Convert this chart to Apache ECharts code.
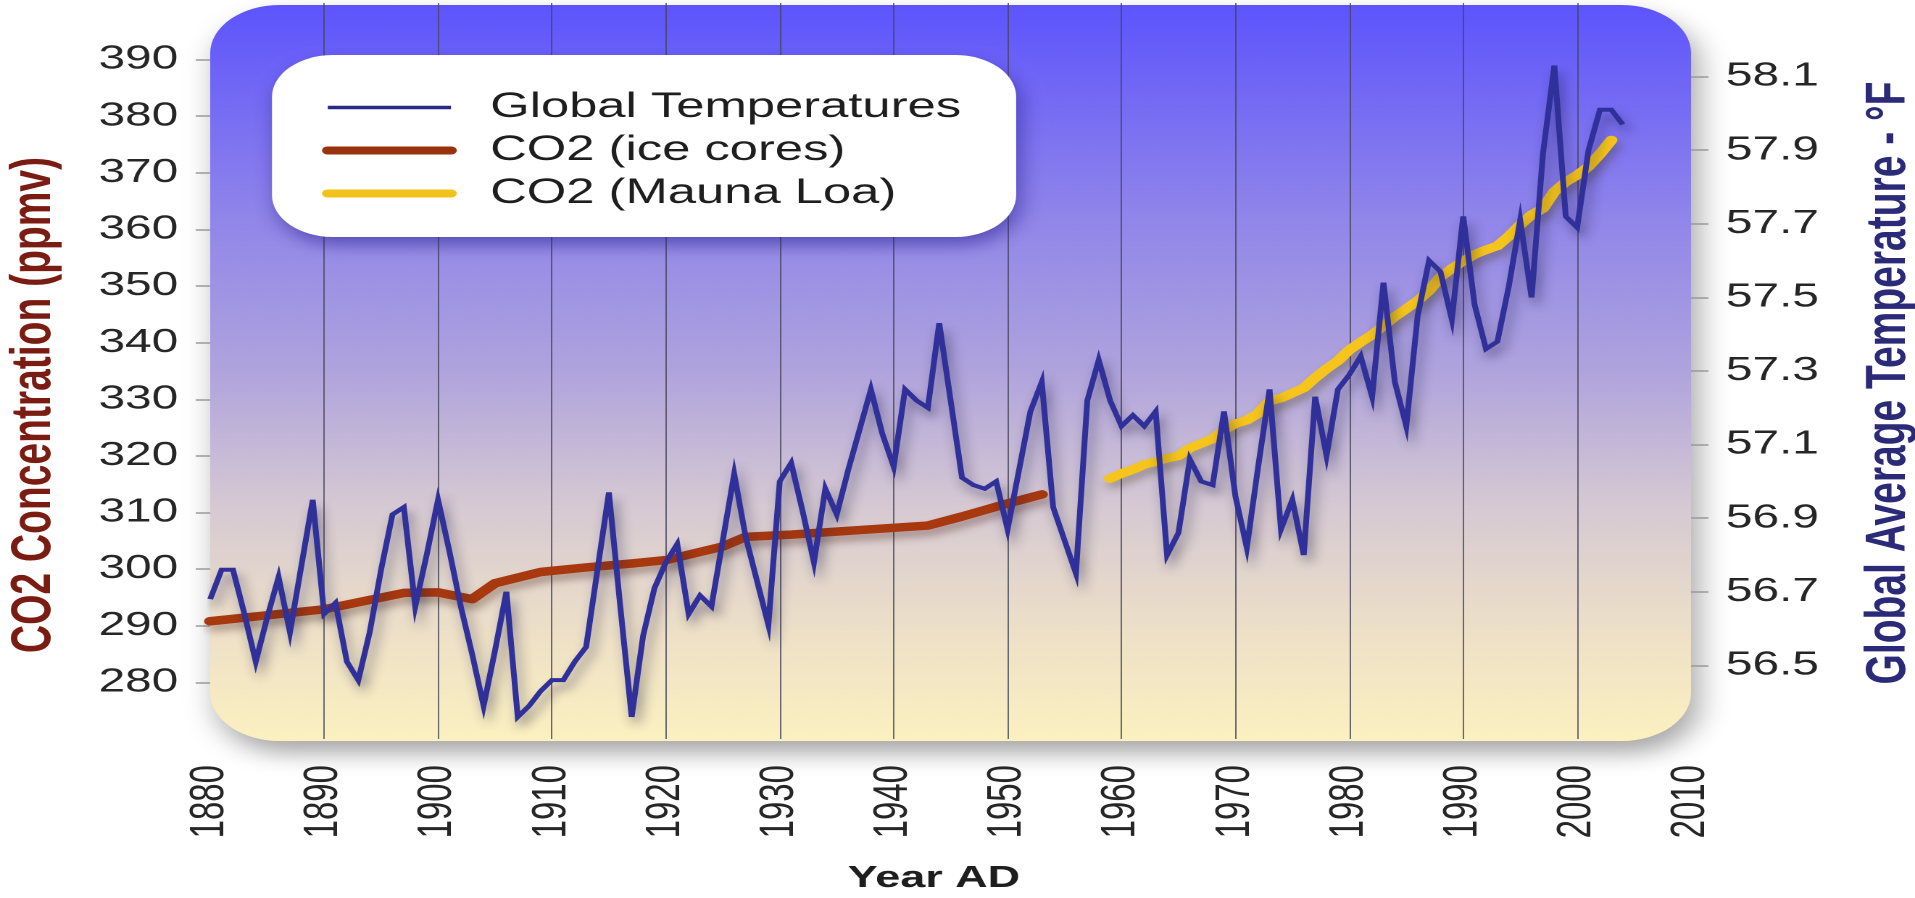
<!DOCTYPE html>
<html>
<head>
<meta charset="utf-8">
<script src="https://cdn.jsdelivr.net/npm/echarts@6/dist/echarts.min.js"></script>
<style>
  html, body { margin: 0; padding: 0; background: #ffffff; overflow: hidden; }
  #wrap { width: 1915px; height: 898px; overflow: hidden; }
  #chart { width: 1321px; height: 898px; transform-origin: 0 0; }
</style>
</head>
<body>
<div id="wrap"><div id="chart"></div></div>
<script>
// ---------------- data ----------------
const tempYears = [
  1880,1881,1882,1883,1884,1885,1886,1887,1888,1889,
  1890,1891,1892,1893,1894,1895,1896,1897,1898,1899,
  1900,1901,1902,1903,1904,1905,1906,1907,1908,1909,
  1910,1911,1912,1913,1914,1915,1916,1917,1918,1919,
  1920,1921,1922,1923,1924,1925,1926,1927,1928,1929,
  1930,1931,1932,1933,1934,1935,1936,1937,1938,1939,
  1940,1941,1942,1943,1944,1945,1946,1947,1948,1949,
  1950,1951,1952,1953,1954,1955,1956,1957,1958,1959,
  1960,1961,1962,1963,1964,1965,1966,1967,1968,1969,
  1970,1971,1972,1973,1974,1975,1976,1977,1978,1979,
  1980,1981,1982,1983,1984,1985,1986,1987,1988,1989,
  1990,1991,1992,1993,1994,1995,1996,1997,1998,1999,
  2000,2001,2002,2003,2004
];
const tempF = [
  56.68,56.76,56.76,56.64,56.51,56.63,56.74,56.59,56.77,56.95,
  56.64,56.67,56.51,56.46,56.59,56.76,56.91,56.93,56.66,56.80,
  56.95,56.81,56.66,56.53,56.39,56.54,56.70,56.36,56.39,56.43,
  56.46,56.46,56.51,56.55,56.76,56.97,56.66,56.36,56.58,56.71,
  56.78,56.83,56.64,56.69,56.66,56.84,57.02,56.85,56.73,56.61,
  57.00,57.05,56.92,56.78,56.98,56.91,57.03,57.14,57.25,57.13,
  57.04,57.25,57.22,57.20,57.43,57.22,57.01,56.99,56.98,57.00,
  56.87,57.03,57.19,57.27,56.93,56.84,56.75,57.22,57.33,57.22,
  57.15,57.18,57.15,57.19,56.80,56.86,57.06,57.00,56.99,57.19,
  56.96,56.82,57.04,57.25,56.87,56.95,56.80,57.23,57.07,57.25,
  57.29,57.34,57.23,57.54,57.27,57.15,57.45,57.60,57.57,57.44,
  57.72,57.48,57.36,57.38,57.53,57.71,57.50,57.89,58.13,57.72,
  57.69,57.90,58.01,58.01,57.97
];
const iceYears = [1880,1890,1897,1900,1903,1905,1909,1913,1917,1920,1925,1927,1931,1940,1943,1946,1950,1953];
const iceCO2   = [290.8,292.9,295.8,295.9,294.7,297.5,299.5,300.3,301.0,301.6,304.0,305.7,306.1,307.3,307.7,309.3,311.6,313.2];
const maunaYears = [
  1959,1960,1961,1962,1963,1964,1965,1966,1967,1968,1969,
  1970,1971,1972,1973,1974,1975,1976,1977,1978,1979,
  1980,1981,1982,1983,1984,1985,1986,1987,1988,1989,
  1990,1991,1992,1993,1994,1995,1996,1997,1998,1999,
  2000,2001,2002,2003
];
const maunaCO2 = [
  316.0,316.9,317.6,318.5,319.0,319.6,320.0,321.4,322.2,323.0,324.6,
  325.7,326.3,327.5,329.7,330.2,331.1,332.0,333.8,335.4,336.8,
  338.7,340.1,341.4,343.0,344.6,346.0,347.4,349.2,351.6,353.1,
  354.4,355.6,356.4,357.1,358.8,360.8,362.6,363.7,366.7,368.4,
  369.6,371.1,373.3,375.8
];
const co2Ticks  = [280,290,300,310,320,330,340,350,360,370,380,390];
const tempTicks = [56.5,56.7,56.9,57.1,57.3,57.5,57.7,57.9,58.1];
const seriesNames = ['Global Temperatures', 'CO2 (ice cores)', 'CO2 (Mauna Loa)'];

// ---------------- layout ----------------
const PRE_W = 1321;                 // drawing width before the horizontal stretch
const STRETCH = 1915 / PRE_W;       // the reference is horizontally stretched
const FONT = "'Liberation Sans', Arial, Helvetica, sans-serif";
const G = { left: 145, right: 154.5, top: 3, bottom: 159 };
const plotW = PRE_W - G.left - G.right;
const COL = { temp: '#30309a', ice: '#a8390f', mauna: '#f6c51c' };

const el = document.getElementById('chart');
el.style.transform = 'scaleX(' + STRETCH + ')';
const chart = echarts.init(el, null, { devicePixelRatio: 2 });

const pair = (xs, ys) => xs.map((x, i) => [x, ys[i]]);

const option = {
  animation: false,
  backgroundColor: '#ffffff',
  grid: { left: G.left, right: G.right, top: G.top, bottom: G.bottom,
          containLabel: false, outerBoundsMode: 'none' },
  graphic: [{
    type: 'rect', z: -5, silent: true,
    shape: { x: G.left, y: 5, width: plotW, height: 736, r: 48 },
    style: {
      fill: new echarts.graphic.LinearGradient(0, 0, 0, 1, [
        { offset: 0, color: '#5d54fd' },
        { offset: 0.28, color: '#8f84ea' },
        { offset: 0.5, color: '#b0a4dd' },
        { offset: 0.68, color: '#d6c9d3' },
        { offset: 0.85, color: '#ede0c8' },
        { offset: 1, color: '#fcf1c0' }
      ]),
      shadowBlur: 22, shadowOffsetX: 5, shadowOffsetY: 12, shadowColor: 'rgba(0,0,0,0.35)'
    }
  }],
  legend: {
    orient: 'vertical', left: 187.6, top: 55,
    padding: [31, 38, 22, 34.5],
    itemWidth: 85, itemHeight: 12, itemGap: 0,
    backgroundColor: '#ffffff', borderRadius: 42,
    shadowBlur: 16, shadowColor: 'rgba(40,30,140,0.55)', shadowOffsetX: 3, shadowOffsetY: 8,
    itemStyle: { opacity: 0 },
    textStyle: { fontSize: 35, color: '#1e1e1e', fontFamily: FONT, lineHeight: 43, padding: [0, 0, 0, 22] },
    data: [
      { name: seriesNames[0], lineStyle: { width: 3.5, color: '#2a2a85', shadowBlur: 0, shadowOffsetX: 0, shadowOffsetY: 0 } },
      { name: seriesNames[1], lineStyle: { width: 8, color: '#98310c', shadowBlur: 0, shadowOffsetX: 0, shadowOffsetY: 0 } },
      { name: seriesNames[2], lineStyle: { width: 8, color: '#f1c21a', shadowBlur: 0, shadowOffsetX: 0, shadowOffsetY: 0 } }
    ]
  },
  xAxis: {
    type: 'value', min: 1880, max: 2010, interval: 10,
    axisLine: { show: false }, axisTick: { show: false },
    axisLabel: { rotate: 90, fontSize: 33, color: '#262626', margin: 26, fontFamily: FONT,
                 formatter: v => String(v) },
    splitLine: { show: true, showMinLine: false, showMaxLine: false, lineStyle: { color: 'rgba(70,70,90,0.8)', width: 1 } },
    name: 'Year AD', nameLocation: 'middle', nameGap: 124,
    nameTextStyle: { fontSize: 31, fontWeight: 'bold', color: '#1e1e1e', fontFamily: FONT, padding: [0, 23, 0, 0] }
  },
  yAxis: [
    {
      type: 'value', position: 'left', min: 270, max: 400, interval: 10,
      axisLine: { show: false },
      axisTick: { show: true, length: 10, customValues: co2Ticks, lineStyle: { color: '#9a9a9a', width: 1.5 } },
      axisLabel: { customValues: co2Ticks, fontSize: 33, color: '#262626', margin: 22, fontFamily: FONT },
      splitLine: { show: false },
      name: 'CO2 Concentration (ppmv)', nameLocation: 'middle', nameRotate: 90, nameGap: 102,
      nameTextStyle: { fontSize: 39, fontWeight: 'bold', color: '#7a1c12', fontFamily: FONT, padding: [0, 68, 0, 0] }
    },
    {
      type: 'value', position: 'right', min: 56.3, max: 58.3, interval: 0.2,
      axisLine: { show: false },
      axisTick: { show: true, length: 12, customValues: tempTicks, lineStyle: { color: '#9a9a9a', width: 1.5 } },
      axisLabel: { customValues: tempTicks, fontSize: 33, color: '#262626', margin: 24, fontFamily: FONT,
                   formatter: v => Number(v).toFixed(1) },
      splitLine: { show: false },
      name: 'Global Average Temperature - °F', nameLocation: 'middle', nameRotate: 90, nameGap: 117,
      nameTextStyle: { fontSize: 39, fontWeight: 'bold', color: '#2a2a78', fontFamily: FONT, padding: [0, 24, 0, 0] }
    }
  ],
  series: [
    {
      name: seriesNames[1], type: 'line', yAxisIndex: 0, z: 2,
      data: pair(iceYears, iceCO2), symbol: 'none',
      itemStyle: { color: COL.ice },
      lineStyle: { color: COL.ice, width: 8.5, cap: 'round', join: 'round',
                   shadowColor: 'rgba(60,20,10,0.35)', shadowBlur: 8, shadowOffsetX: 2, shadowOffsetY: 6 }
    },
    {
      name: seriesNames[2], type: 'line', yAxisIndex: 0, z: 2,
      data: pair(maunaYears, maunaCO2), symbol: 'none',
      itemStyle: { color: COL.mauna },
      lineStyle: { color: COL.mauna, width: 8.5, cap: 'round', join: 'round',
                   shadowColor: 'rgba(60,50,10,0.35)', shadowBlur: 8, shadowOffsetX: 2, shadowOffsetY: 6 }
    },
    {
      name: seriesNames[0], type: 'line', yAxisIndex: 1, z: 3,
      data: pair(tempYears, tempF), symbol: 'none',
      itemStyle: { color: COL.temp },
      lineStyle: { color: COL.temp, width: 4, join: 'miter',
                   shadowColor: 'rgba(25,25,60,0.45)', shadowBlur: 9, shadowOffsetX: 3, shadowOffsetY: 7 }
    }
  ]
};
chart.setOption(option);
</script>
</body>
</html>
